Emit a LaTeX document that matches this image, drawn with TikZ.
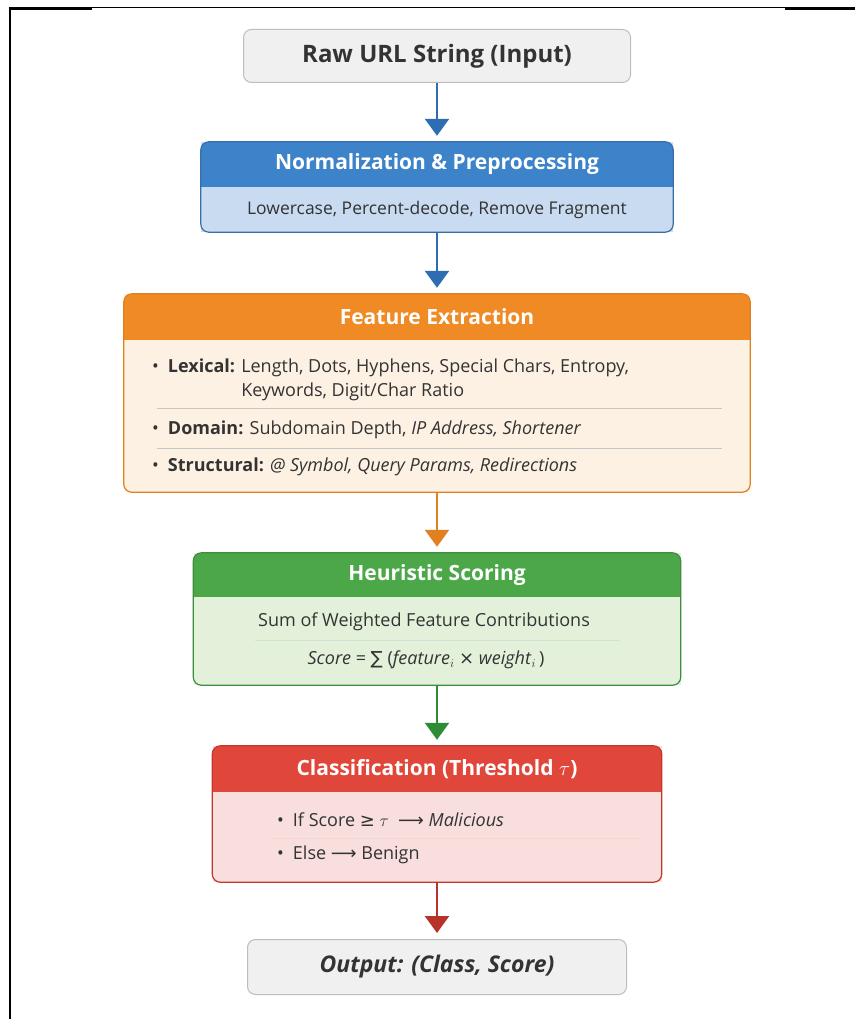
\documentclass[tikz,border=0pt]{standalone}
\usepackage{fontspec}
\setmainfont{Open Sans}
\newfontfamily\symfont{DejaVu Sans}
\usetikzlibrary{positioning, arrows.meta}

\definecolor{textgray}{HTML}{333333}
\definecolor{boxgray}{HTML}{BDBDBD}
\definecolor{boxfill}{HTML}{F0F0F0}
\definecolor{normhead}{HTML}{3D83C9}
\definecolor{normbody}{HTML}{C8DBF1}
\definecolor{normline}{HTML}{3A6EA8}
\definecolor{normarrow}{HTML}{2F6DB3}
\definecolor{feathead}{HTML}{EF8A24}
\definecolor{featbody}{HTML}{FDF1E3}
\definecolor{featline}{HTML}{E08020}
\definecolor{heurhead}{HTML}{4BA748}
\definecolor{heurbody}{HTML}{E3F1DB}
\definecolor{heurline}{HTML}{3E8E3B}
\definecolor{heurarrow}{HTML}{2E8B36}
\definecolor{clfhead}{HTML}{E1463B}
\definecolor{clfbody}{HTML}{F9DEDE}
\definecolor{clfline}{HTML}{C0392B}
\definecolor{clfarrow}{HTML}{B8322A}

\tikzset{
    plainbox/.style={draw=boxgray, fill=boxfill, rounded corners=8pt, line width=1pt,
        inner sep=0pt},
    stagebox/.style={inner sep=0pt},
    flowarrow/.style={line width=2.5pt, -{Triangle[width=24pt,length=17pt]}, shorten >=6pt},
    headtext/.style={text=white, font=\fontsize{21}{24}\selectfont\bfseries},
    bodytext/.style={text=textgray, font=\fontsize{18}{24}\selectfont, inner sep=0pt},
    sepline/.style={line width=0.8pt}
}

% header band and border of a stage box: node, header colour, border colour, header height
\newcommand{\stagehead}[4]{
    \begin{scope}
        \clip[rounded corners=8pt] (#1.south west) rectangle (#1.north east);
        \fill[#2] (#1.north west) rectangle ([yshift=-#4]#1.north east);
    \end{scope}
    \draw[#3, line width=1.2pt, rounded corners=8pt] (#1.south west) rectangle (#1.north east);
}
\newcommand{\bul}{\textbullet\hspace{9pt}}

\begin{document}
\begin{tikzpicture}[x=1pt, y=-1pt]

    \useasboundingbox (0,0) rectangle (855,1019);

    % frame
    \draw[line width=1pt] (9,8) -- (855,8);
    \draw[line width=2pt] (10,1019) -- (10,9) -- (92,9);
    \draw[line width=2pt] (785,9) -- (855,9);

    % input
    \node[plainbox, minimum width=387pt, minimum height=53pt,
        font=\fontsize{24}{28}\selectfont\bfseries, text=textgray] (input) at (437,56) {Raw URL String (Input)};

    % normalization
    \node[stagebox, fill=normbody, minimum width=472pt, minimum height=90pt] (norm) at (437,187) {};
    \stagehead{norm}{normhead}{normline}{45pt}
    \node[headtext] (normtitle) at ([yshift=-22pt]norm.north) {Normalization \& Preprocessing};
    \node[bodytext, font=\fontsize{17.5}{21}\selectfont] (normtext) at ([yshift=22pt]norm.south)
        {Lowercase, Percent-decode, Remove Fragment};

    % feature extraction
    \node[stagebox, fill=featbody, minimum width=626pt, minimum height=198pt] (feat) at (437,393) {};
    \stagehead{feat}{feathead}{featline}{46pt}
    \node[headtext] (feattitle) at ([yshift=-23pt]feat.north) {Feature Extraction};
    \node[bodytext, anchor=base west] (lexical) at (152,372)
        {\bul\textbf{Lexical:} \begin{tabular}[t]{@{}l@{}}Length, Dots, Hyphens, Special Chars, Entropy,\\
        Keywords, Digit/Char Ratio\end{tabular}};
    \node[bodytext, anchor=west] (domain) at (152,430)
        {\bul\textbf{Domain:} Subdomain Depth, \textit{IP Address, Shortener}};
    \node[bodytext, anchor=west] (structural) at (152,467)
        {\bul\textbf{Structural:} \textit{@ Symbol, Query Params, Redirections}};
    \draw[sepline, gray!45] (157,408) -- (722,408);
    \draw[sepline, gray!45] (157,448) -- (722,448);

    % heuristic scoring
    \node[stagebox, fill=heurbody, minimum width=487pt, minimum height=132pt] (heur) at (437,619) {};
    \stagehead{heur}{heurhead}{heurline}{44pt}
    \node[headtext] (heurtitle) at ([yshift=-22pt]heur.north) {Heuristic Scoring};
    \node[bodytext] (heursum) at (424,622) {Sum of Weighted Feature Contributions};
    \node[bodytext] (heurscore) at (426,660)
        {\textit{Score} = {\symfont ∑} (\textit{feature}$_i$ {\symfont ×} \textit{weight}$_i$\,)};
    \draw[sepline, heurline!25] (255,640) -- (620,640);

    % classification
    \node[stagebox, fill=clfbody, minimum width=449pt, minimum height=136pt] (clf) at (437,814) {};
    \stagehead{clf}{clfhead}{clfline}{46pt}
    \node[headtext] (clftitle) at ([yshift=-23pt]clf.north) {Classification (Threshold $\tau$)};
    \node[bodytext, anchor=west] (clfif) at (277,820)
        {\bul If Score {\symfont ≥} $\tau$ \ {\symfont ⟶} \textit{Malicious}};
    \node[bodytext, anchor=west] (clfelse) at (277,855)
        {\bul Else {\symfont ⟶} Benign};
    \draw[sepline, clfline!20] (270,838) -- (640,838);

    % output
    \node[plainbox, minimum width=379pt, minimum height=55pt,
        font=\fontsize{23}{27}\selectfont\bfseries\itshape, text=textgray] (output) at (437,967) {Output: (Class, Score)};

    % arrows
    \draw[flowarrow, normarrow] (input) -- (norm);
    \draw[flowarrow, normarrow] (norm) -- (feat);
    \draw[flowarrow, featline] (feat) -- (heur);
    \draw[flowarrow, heurarrow] (heur) -- (clf);
    \draw[flowarrow, clfarrow] (clf) -- (output);

\end{tikzpicture}
\end{document}
